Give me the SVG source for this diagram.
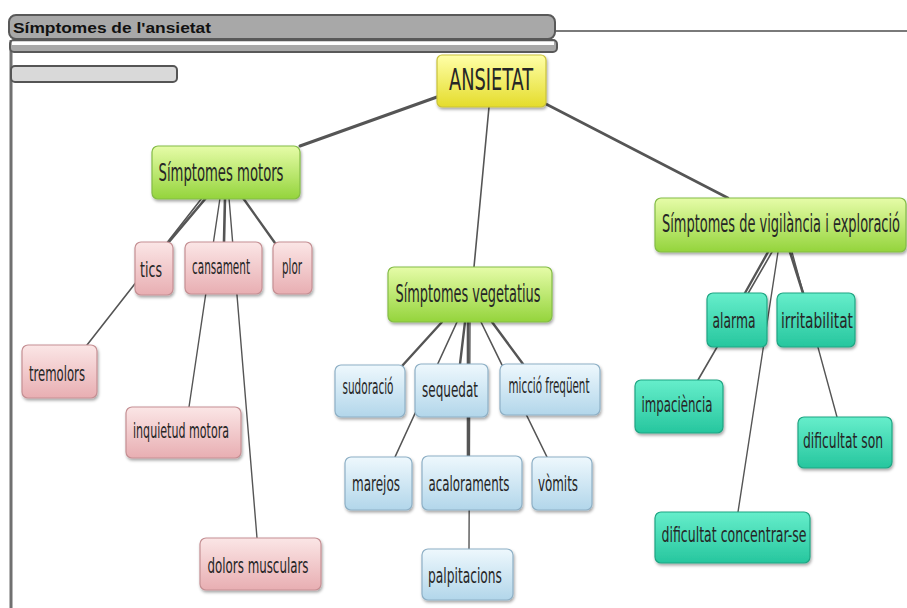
<svg xmlns="http://www.w3.org/2000/svg" width="907" height="608" viewBox="0 0 907 608">
  <defs>
    <linearGradient id="gYellow" x1="0" y1="0" x2="0" y2="1">
      <stop offset="0" stop-color="#ffffa8"/>
      <stop offset="1" stop-color="#e4dc2c"/>
    </linearGradient>
    <linearGradient id="gGreen" x1="0" y1="0" x2="0" y2="1">
      <stop offset="0" stop-color="#e6fca8"/>
      <stop offset="1" stop-color="#94d43c"/>
    </linearGradient>
    <linearGradient id="gPink" x1="0" y1="0" x2="0" y2="1">
      <stop offset="0" stop-color="#fbe6e6"/>
      <stop offset="1" stop-color="#e8aeb2"/>
    </linearGradient>
    <linearGradient id="gBlue" x1="0" y1="0" x2="0" y2="1">
      <stop offset="0" stop-color="#eef8fd"/>
      <stop offset="1" stop-color="#b2d6ea"/>
    </linearGradient>
    <linearGradient id="gTeal" x1="0" y1="0" x2="0" y2="1">
      <stop offset="0" stop-color="#66eecb"/>
      <stop offset="1" stop-color="#26c69e"/>
    </linearGradient>
    <filter id="shadow" x="-10%" y="-10%" width="130%" height="140%">
      <feDropShadow dx="1" dy="2" stdDeviation="1.5" flood-color="#000" flood-opacity="0.35"/>
    </filter>
  </defs>
  <style>
    .frame { fill: #a8a8a8; stroke: #595959; stroke-width: 2; }
    .edge { stroke: #555; stroke-linecap: round; fill: none; }
    .node rect { filter: url(#shadow); stroke-width: 1.2; }
    .root rect { fill: url(#gYellow); stroke: #c9c23a; }
    .cat rect { fill: url(#gGreen); stroke: #84bc46; }
    .pink rect { fill: url(#gPink); stroke: #c58f93; }
    .blue rect { fill: url(#gBlue); stroke: #8eb0c6; }
    .teal rect { fill: url(#gTeal); stroke: #1fa583; }
    .node text { font-family: "Liberation Sans Narrow", "DejaVu Sans Condensed", "Liberation Sans", sans-serif; fill: #262626; text-anchor: middle; }
    .leaf text { font-size: 21px; }
    .cat text { font-size: 24px; }
    .root text { font-size: 31px; }
    .title { font-family: "Liberation Sans", Arial, sans-serif; font-weight: bold; font-size: 15px; fill: #111; }
  </style>
  <rect width="907" height="608" fill="#ffffff"/>

  <!-- window frame -->
  <g id="frame">
    <line x1="555" y1="31" x2="907" y2="31" stroke="#7a7a7a" stroke-width="2"/>
    <line x1="11" y1="40" x2="11" y2="608" stroke="#707070" stroke-width="3"/>
    <rect class="frame" x="10" y="40" width="547" height="12" rx="4"/>
    <rect x="12" y="41.5" width="542" height="3.5" fill="#ffffff"/>
    <rect class="frame" x="9" y="15" width="546" height="24" rx="7"/>
    <text class="title" x="13" y="33" textLength="198" lengthAdjust="spacingAndGlyphs">Símptomes de l'ansietat</text>
    <rect x="11" y="66" width="166" height="16" rx="4" fill="#d9d9d9" stroke="#555" stroke-width="2"/>
  </g>

  <!-- connectors -->
  <g id="connectors">
    <line class="edge" x1="437" y1="97" x2="300" y2="146" stroke-width="3"/>
    <line class="edge" x1="489" y1="107" x2="474" y2="267" stroke-width="1.6"/>
    <line class="edge" x1="546" y1="104" x2="728" y2="198" stroke-width="2.6"/>

    <line class="edge" x1="206" y1="198" x2="168" y2="243" stroke-width="2.6"/>
    <line class="edge" x1="202" y1="198" x2="87" y2="345" stroke-width="1.6"/>
    <line class="edge" x1="220" y1="198" x2="189" y2="407" stroke-width="1.4"/>
    <line class="edge" x1="225" y1="198" x2="224" y2="242" stroke-width="2.6"/>
    <line class="edge" x1="229" y1="198" x2="257" y2="538" stroke-width="1.4"/>
    <line class="edge" x1="243" y1="198" x2="275" y2="243" stroke-width="2.4"/>

    <line class="edge" x1="442" y1="322" x2="402" y2="366" stroke-width="2.4"/>
    <line class="edge" x1="457" y1="322" x2="395" y2="457" stroke-width="1.6"/>
    <line class="edge" x1="465" y1="322" x2="460" y2="364" stroke-width="2.4"/>
    <line class="edge" x1="468" y1="322" x2="468" y2="456" stroke-width="2.6"/>
    <line class="edge" x1="470" y1="322" x2="469" y2="549" stroke-width="1.4"/>
    <line class="edge" x1="481" y1="322" x2="547" y2="457" stroke-width="1.6"/>
    <line class="edge" x1="492" y1="322" x2="523" y2="364" stroke-width="2.4"/>

    <line class="edge" x1="768" y1="252" x2="745" y2="293" stroke-width="2.4"/>
    <line class="edge" x1="772" y1="252" x2="698" y2="380" stroke-width="1.6"/>
    <line class="edge" x1="778" y1="252" x2="738" y2="512" stroke-width="1.4"/>
    <line class="edge" x1="790" y1="252" x2="803" y2="293" stroke-width="2.6"/>
    <line class="edge" x1="792" y1="252" x2="837" y2="417" stroke-width="1.4"/>
  </g>

  <!-- root -->
  <g id="ansietat" class="node root">
    <rect x="437" y="55" width="109" height="52" rx="5"/>
    <text x="491" y="90" textLength="84" lengthAdjust="spacingAndGlyphs">ANSIETAT</text>
  </g>

  <!-- categories -->
  <g id="simptomes-motors" class="node cat">
    <rect x="152" y="146" width="148" height="53" rx="6"/>
    <text x="221" y="181" textLength="125" lengthAdjust="spacingAndGlyphs">Símptomes  motors</text>
  </g>
  <g id="simptomes-vegetatius" class="node cat">
    <rect x="388" y="267" width="164" height="55" rx="6"/>
    <text x="468" y="302" textLength="145" lengthAdjust="spacingAndGlyphs">Símptomes vegetatius</text>
  </g>
  <g id="simptomes-vigilancia" class="node cat">
    <rect x="655" y="198" width="251" height="54" rx="6"/>
    <text x="781" y="232" textLength="238" lengthAdjust="spacingAndGlyphs">Símptomes de vigilància i exploració</text>
  </g>

  <!-- motor symptoms -->
  <g id="tics" class="node leaf pink">
    <rect x="135" y="242" width="38" height="53" rx="6"/>
    <text x="151" y="277" textLength="22" lengthAdjust="spacingAndGlyphs">tics</text>
  </g>
  <g id="cansament" class="node leaf pink">
    <rect x="185" y="242" width="77" height="52" rx="6"/>
    <text x="221" y="274" textLength="58" lengthAdjust="spacingAndGlyphs">cansament</text>
  </g>
  <g id="plor" class="node leaf pink">
    <rect x="273" y="242" width="39" height="52" rx="6"/>
    <text x="292" y="274" textLength="20" lengthAdjust="spacingAndGlyphs">plor</text>
  </g>
  <g id="tremolors" class="node leaf pink">
    <rect x="22" y="345" width="75" height="53" rx="6"/>
    <text x="57" y="381" textLength="56" lengthAdjust="spacingAndGlyphs">tremolors</text>
  </g>
  <g id="inquietud-motora" class="node leaf pink">
    <rect x="126" y="407" width="115" height="51" rx="6"/>
    <text x="181" y="438" textLength="96" lengthAdjust="spacingAndGlyphs">inquietud   motora</text>
  </g>
  <g id="dolors-musculars" class="node leaf pink">
    <rect x="200" y="538" width="121" height="52" rx="6"/>
    <text x="258" y="573" textLength="101" lengthAdjust="spacingAndGlyphs">dolors musculars</text>
  </g>

  <!-- vegetative symptoms -->
  <g id="sudoracio" class="node leaf blue">
    <rect x="335" y="365" width="70" height="52" rx="6"/>
    <text x="368" y="394" textLength="51" lengthAdjust="spacingAndGlyphs">sudoració</text>
  </g>
  <g id="sequedat" class="node leaf blue">
    <rect x="415" y="364" width="73" height="53" rx="6"/>
    <text x="450" y="397" textLength="56" lengthAdjust="spacingAndGlyphs">sequedat</text>
  </g>
  <g id="miccio-frequent" class="node leaf blue">
    <rect x="500" y="364" width="100" height="51" rx="6"/>
    <text x="549" y="393" textLength="81" lengthAdjust="spacingAndGlyphs">micció freqüent</text>
  </g>
  <g id="marejos" class="node leaf blue">
    <rect x="345" y="457" width="67" height="53" rx="6"/>
    <text x="376" y="491" textLength="48" lengthAdjust="spacingAndGlyphs">marejos</text>
  </g>
  <g id="acaloraments" class="node leaf blue">
    <rect x="422" y="456" width="100" height="54" rx="6"/>
    <text x="469" y="491" textLength="81" lengthAdjust="spacingAndGlyphs">acaloraments</text>
  </g>
  <g id="vomits" class="node leaf blue">
    <rect x="532" y="457" width="60" height="53" rx="6"/>
    <text x="558" y="491" textLength="40" lengthAdjust="spacingAndGlyphs">vòmits</text>
  </g>
  <g id="palpitacions" class="node leaf blue">
    <rect x="422" y="549" width="91" height="51" rx="6"/>
    <text x="465" y="583" textLength="74" lengthAdjust="spacingAndGlyphs">palpitacions</text>
  </g>

  <!-- vigilance and exploration symptoms -->
  <g id="alarma" class="node leaf teal">
    <rect x="707" y="293" width="60" height="54" rx="6"/>
    <text x="734" y="328" textLength="43" lengthAdjust="spacingAndGlyphs">alarma</text>
  </g>
  <g id="irritabilitat" class="node leaf teal">
    <rect x="777" y="293" width="78" height="54" rx="6"/>
    <text x="817" y="328" textLength="72" lengthAdjust="spacingAndGlyphs">irritabilitat</text>
  </g>
  <g id="impaciencia" class="node leaf teal">
    <rect x="635" y="380" width="88" height="53" rx="6"/>
    <text x="677" y="412" textLength="71" lengthAdjust="spacingAndGlyphs">impaciència</text>
  </g>
  <g id="dificultat-son" class="node leaf teal">
    <rect x="798" y="417" width="94" height="51" rx="6"/>
    <text x="843" y="448" textLength="80" lengthAdjust="spacingAndGlyphs">dificultat son</text>
  </g>
  <g id="dificultat-concentrar" class="node leaf teal">
    <rect x="655" y="512" width="155" height="51" rx="6"/>
    <text x="734" y="542" textLength="145" lengthAdjust="spacingAndGlyphs">dificultat concentrar-se</text>
  </g>
</svg>
